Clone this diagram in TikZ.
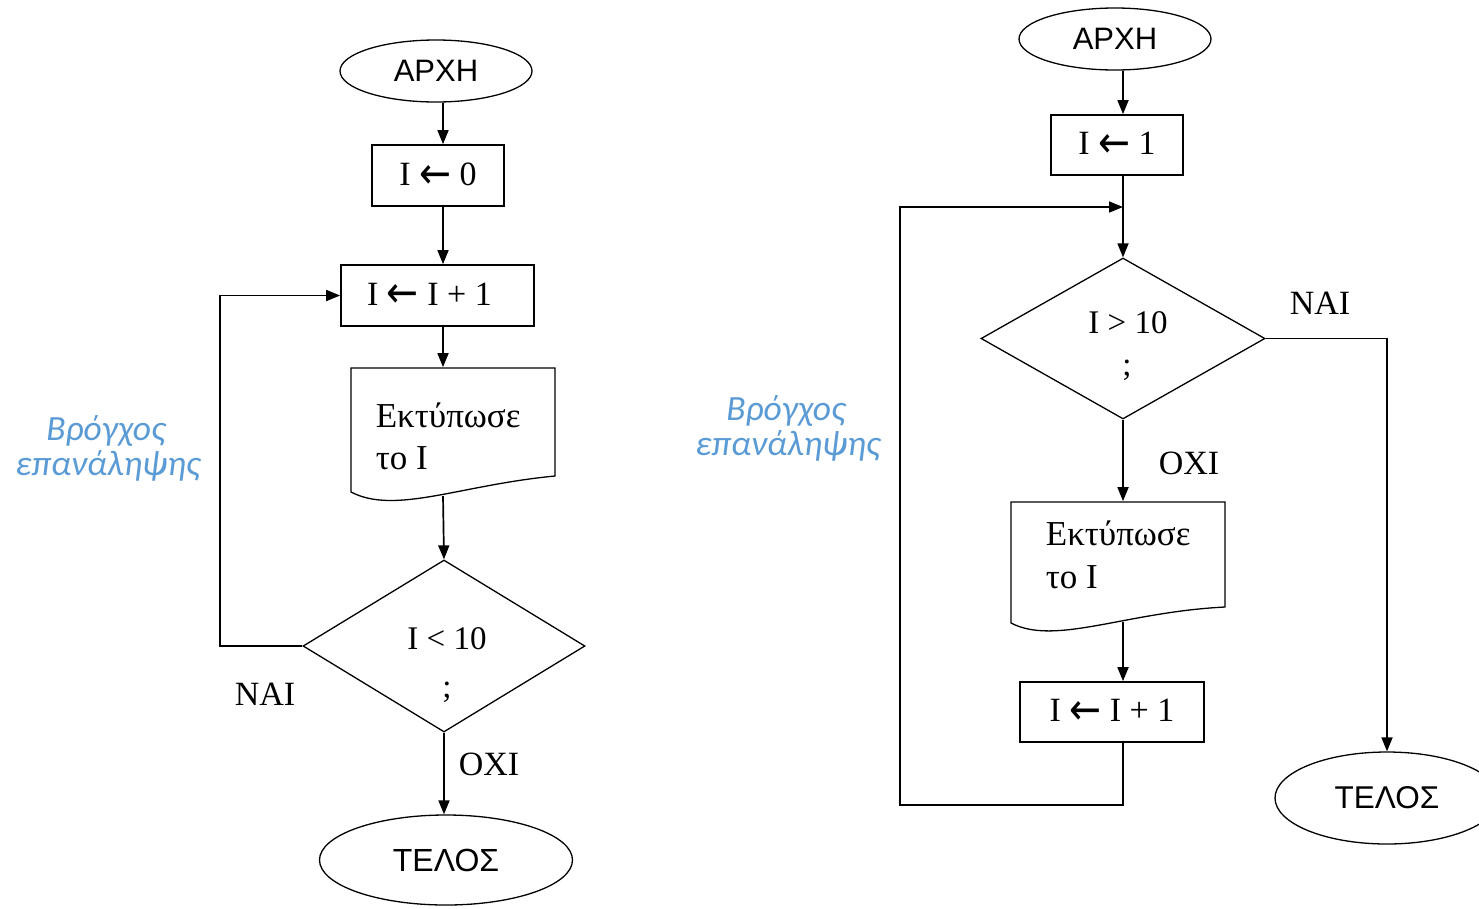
\documentclass[tikz,border=0pt]{standalone}
\usepackage{fontspec}
\setmainfont{Liberation Serif}
\newfontfamily\arialf{Liberation Sans}
\newfontfamily\calf{Carlito}
\newfontfamily\djv{DejaVu Sans}
\usetikzlibrary{shapes.geometric,arrows.meta}
\definecolor{loopblue}{HTML}{5B9BD5}
\newcommand{\assignarrow}{\raisebox{-2.5pt}{\resizebox{32pt}{23pt}{\djv ←}}}
\begin{document}
\begin{tikzpicture}[x=1pt,y=-1pt,
  line width=1.7pt,
  arr/.style={-{Triangle[length=14pt,width=11pt]}},
  procbox/.style={draw, rectangle, inner sep=0pt, font=\fontsize{34}{38}\selectfont},
  term/.style={draw, ellipse, inner sep=0pt, line width=1.3pt},
  decis/.style={draw, diamond, inner sep=0pt, line width=1.3pt},
  doctext/.style={inner sep=0pt, font=\fontsize{35}{38}\selectfont},
  condtext/.style={inner sep=0pt, anchor=base, font=\fontsize{33}{36}\selectfont},
  ylabel/.style={inner sep=0pt, anchor=base, font=\fontsize{34}{36}\selectfont},
  bluetxt/.style={inner sep=0pt, anchor=base, text=loopblue, font=\calf\itshape\fontsize{35.5}{40}\selectfont}
]
\useasboundingbox (0,0) rectangle (1479,908);
\clip (0,0) rectangle (1479,908);

% ---------------- Left flowchart ----------------
\coordinate (L) at (443,0);
\node[term, minimum width=192pt, minimum height=62pt, font=\arialf\fontsize{31}{34}\selectfont] (a1) at (436,71) {ΑΡΧΗ};
\node[procbox, minimum width=132pt, minimum height=61pt] (b1) at (438,175.5) {I \assignarrow{} 0};
\node[procbox, minimum width=193pt, minimum height=61pt] (c1) at (437.5,295.5) {I \assignarrow{} I + 1\hspace*{16pt}};
\node[inner sep=0pt, minimum width=204pt, minimum height=108pt] (d1) at (453,422) {};
\draw[line width=1.3pt] (351,368) -- (555,368) -- (555,476) .. controls (460,485) and (395,515) .. (351,492) -- cycle;
\node[doctext, anchor=base west] (d1t1) at (375,427) {Εκτύπωσε};
\node[doctext, anchor=base west] (d1t2) at (375,469) {το I};
\coordinate (d1out) at (443,496);
\node[decis, minimum width=282pt, minimum height=172pt] (e1) at (444,646) {};
\node[condtext] (e1t1) at (447,649) {I < 10};
\node[condtext] (e1t2) at (447,697) {;};
\node[term, minimum width=253pt, minimum height=90pt, font=\arialf\fontsize{32}{34}\selectfont] (f1) at (446,860) {ΤΕΛΟΣ};
\coordinate (loopL) at (220,0);

\draw[arr] (a1.south -| L) -- (b1.north -| L);
\draw[arr] (b1.south -| L) -- (c1.north -| L);
\draw[arr] (c1.south -| L) -- (d1.north -| L);
\draw[arr] (d1out) -- (e1.north);
\draw[arr] (e1.south) -- (f1.north -| e1.south);
\draw[arr] (e1.west) -- (e1.west -| loopL) |- (c1.west);
\node[ylabel] (nai1) at (265,705) {ΝΑΙ};
\node[ylabel] (oxi1) at (489,775) {ΟΧΙ};
\node[bluetxt] (bl1) at (106,440) {Βρόγχος};
\node[bluetxt] (bl2) at (108,475) {επανάληψης};

% ---------------- Right flowchart ----------------
\coordinate (R) at (1123,0);
\node[term, minimum width=192pt, minimum height=62pt, font=\arialf\fontsize{31}{34}\selectfont] (a2) at (1115,39) {ΑΡΧΗ};
\node[procbox, minimum width=132pt, minimum height=60pt] (b2) at (1117,145) {I \assignarrow{} 1};
\node[decis, minimum width=284pt, minimum height=161pt] (e2) at (1123,338.5) {};
\node[condtext] (e2t1) at (1128,333) {I > 10};
\node[condtext] (e2t2) at (1127,375) {;};
\node[inner sep=0pt, minimum width=214pt, minimum height=105pt] (d2) at (1118,554.5) {};
\draw[line width=1.3pt] (1011,502) -- (1225,502) -- (1225,607) .. controls (1125,612) and (1055,646) .. (1011,623) -- cycle;
\node[doctext, anchor=base west] (d2t1) at (1045,545) {Εκτύπωσε};
\node[doctext, anchor=base west] (d2t2) at (1045,588) {το I};
\coordinate (d2out) at (1123,622);
\node[procbox, minimum width=184pt, minimum height=60pt] (g2) at (1112,712) {I \assignarrow{} I + 1};
\node[term, minimum width=224pt, minimum height=92pt, font=\arialf\fontsize{31.5}{34}\selectfont] (f2) at (1387,798) {ΤΕΛΟΣ};
\coordinate (j2) at (1123,207);
\coordinate (lb) at (900,805);

\draw[arr] (a2.south -| R) -- (b2.north -| R);
\draw[arr] (b2.south -| R) -- (e2.north);
\draw[arr] (e2.east) -| (f2.north);
\draw[arr] (e2.south) -- (d2.north -| R);
\draw[arr] (d2out) -- (g2.north -| R);
\draw[arr] (g2.south -| R) |- (lb) |- (j2);
\node[ylabel] (nai2) at (1320,314) {ΝΑΙ};
\node[ylabel] (oxi2) at (1189,474) {ΟΧΙ};
\node[bluetxt] (br1) at (786,420) {Βρόγχος};
\node[bluetxt] (br2) at (788,455) {επανάληψης};
\end{tikzpicture}
\end{document}
